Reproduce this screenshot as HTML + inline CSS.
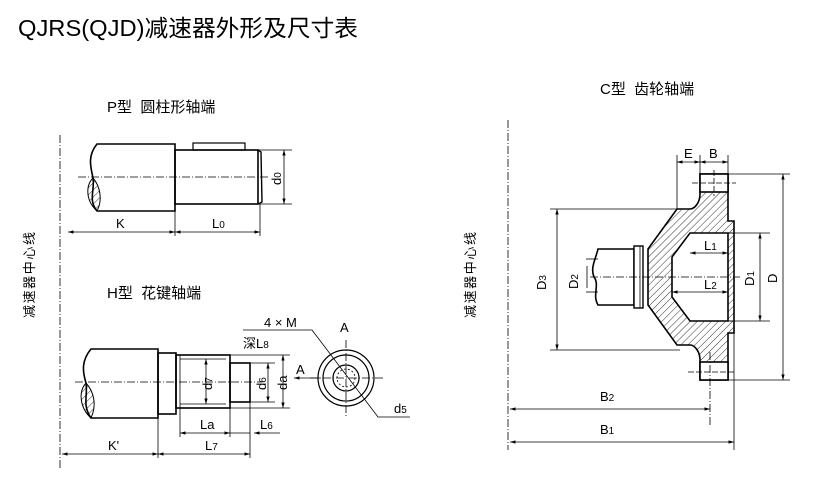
<!DOCTYPE html>
<html><head><meta charset="utf-8"><style>
html,body{margin:0;padding:0;background:#fff;}
svg{display:block;}
text{font-family:"Liberation Sans","Noto Sans CJK SC",sans-serif;fill:#000;}
</style></head><body>
<svg width="818" height="481" viewBox="0 0 818 481" xmlns="http://www.w3.org/2000/svg">
<defs>
<pattern id="h" width="5" height="5" patternUnits="userSpaceOnUse" patternTransform="rotate(45)">
<line x1="0" y1="0" x2="0" y2="5" stroke="#000" stroke-width="0.8"/>
</pattern>
<marker id="a" viewBox="0 0 10 10" refX="10" refY="5" markerWidth="7" markerHeight="7" orient="auto-start-reverse"><path d="M0,2 L10,5 L0,8z" fill="#000"/></marker>
</defs>
<text x="18" y="36" font-size="23" textLength="340" lengthAdjust="spacingAndGlyphs">QJRS(QJD)减速器外形及尺寸表</text>

<text transform="translate(34,318) rotate(-90)" font-size="13" textLength="86">减速器中心线</text>
<text transform="translate(475,318) rotate(-90)" font-size="13" textLength="86">减速器中心线</text>

<g fill="none" stroke="#000" stroke-width="0.8">
<line x1="60" y1="135" x2="60" y2="468" stroke-dasharray="8,2,1,2"/>
<line x1="508" y1="120" x2="508" y2="450" stroke-dasharray="8,2,1,2"/>

<!-- P type -->
<path d="M97,144 L175,144 L175,211 L97,211 C88,200 95,190 93,178 C90,165 88,155 97,144Z" stroke-width="1.6" fill="#fff"/>
<path d="M93,178 C86,185 85,200 97,211 C103,200 100,186 93,178Z" fill="url(#h)" stroke-width="1"/>
<rect x="175" y="150" width="83" height="54" stroke-width="1.6"/>
<rect x="193" y="143" width="52" height="7" stroke-width="1.2"/>
<path d="M258,150 L261,152 L262,202 L258,204" stroke-width="1.4"/>
<line x1="78" y1="177" x2="268" y2="177" stroke-dasharray="8,2,1,2"/>
<line x1="258" y1="150" x2="292" y2="150"/>
<line x1="258" y1="204" x2="292" y2="204"/>
<line x1="284" y1="150" x2="284" y2="204" marker-start="url(#a)" marker-end="url(#a)"/>
<line x1="175" y1="211" x2="175" y2="236"/>
<line x1="260" y1="204" x2="260" y2="236"/>
<line x1="68" y1="232" x2="175" y2="232" marker-start="url(#a)" marker-end="url(#a)"/>
<line x1="175" y1="232" x2="260" y2="232" marker-start="url(#a)" marker-end="url(#a)"/>

<!-- H type -->
<path d="M91,349 L158,349 L158,418 L91,418 C82,405 88,395 86,383 C82,370 82,360 91,349Z" stroke-width="1.6" fill="#fff"/>
<path d="M86,383 C78,392 80,408 91,418 C97,405 94,392 86,383Z" fill="url(#h)" stroke-width="1"/>
<rect x="158" y="353" width="18" height="61" stroke-width="1.6"/>
<rect x="176" y="355" width="54" height="53" stroke-width="1.6"/>
<line x1="180" y1="359" x2="226" y2="359"/>
<line x1="180" y1="404" x2="226" y2="404"/>
<line x1="180" y1="355" x2="180" y2="408"/>
<rect x="230" y="363" width="20" height="39" stroke-width="1.6"/>
<line x1="75" y1="382" x2="262" y2="382" stroke-dasharray="8,2,1,2"/>
<line x1="230" y1="355" x2="290" y2="355"/>
<line x1="230" y1="408" x2="290" y2="408"/>
<line x1="250" y1="363" x2="275" y2="363"/>
<line x1="250" y1="402" x2="275" y2="402"/>
<line x1="206" y1="359" x2="206" y2="404" marker-start="url(#a)" marker-end="url(#a)"/>
<line x1="268" y1="363" x2="268" y2="402" marker-start="url(#a)" marker-end="url(#a)"/>
<line x1="283" y1="355" x2="283" y2="408" marker-start="url(#a)" marker-end="url(#a)"/>
<line x1="180" y1="408" x2="180" y2="437"/>
<line x1="230" y1="408" x2="230" y2="437"/>
<line x1="250" y1="402" x2="250" y2="458"/>
<line x1="158" y1="418" x2="158" y2="458"/>
<line x1="180" y1="433" x2="230" y2="433" marker-start="url(#a)" marker-end="url(#a)"/>
<line x1="230" y1="433" x2="250" y2="433"/>
<line x1="280" y1="433" x2="254" y2="433" marker-end="url(#a)"/>
<line x1="158" y1="454" x2="250" y2="454" marker-start="url(#a)" marker-end="url(#a)"/>
<line x1="62" y1="454" x2="158" y2="454" marker-start="url(#a)" marker-end="url(#a)"/>
<circle cx="346" cy="378" r="28" stroke-width="1.2"/>
<circle cx="346" cy="378" r="23" stroke-width="1.2"/>
<circle cx="346" cy="378" r="13" stroke-width="1.2"/>
<circle cx="346" cy="378" r="9" stroke-dasharray="2,2"/>
<line x1="310" y1="378" x2="385" y2="378" stroke-dasharray="8,2,1,2"/>
<line x1="346" y1="340" x2="346" y2="416" stroke-dasharray="8,2,1,2"/>
<path d="M243,330 L312,330 L378,417 L410,417"/>
<line x1="320" y1="378" x2="294" y2="378" marker-end="url(#a)"/>

<!-- C type gear -->
<path d="M700,174 L728,174 L728,221 L734,221 L734,333 L728,333 L728,380 L700,380 L700,360 C700,352 695,345 690,345 L677,345 L648,305 L648,249 L677,209 L690,209 C695,209 700,202 700,194Z" fill="url(#h)" stroke-width="1.6"/>
<path d="M690,233 L728,233 L728,321 L690,321 L672,297 L672,257Z" fill="#fff" stroke-width="1.6"/>
<line x1="728" y1="233" x2="734" y2="233"/><line x1="728" y1="321" x2="734" y2="321"/>
<rect x="700" y="174" width="28" height="18" fill="#fff" stroke-width="1.6"/>
<rect x="700" y="362" width="28" height="18" fill="#fff" stroke-width="1.6"/>
<path d="M598,249 L634,249 L634,305 L598,305 C592,295 600,285 594,277 C590,268 596,258 598,249Z" fill="#fff" stroke-width="1.6"/>
<rect x="634" y="246" width="9" height="62" fill="#fff" stroke-width="1.4"/>
<line x1="640" y1="246" x2="640" y2="308"/>
<line x1="590" y1="277" x2="740" y2="277" stroke-dasharray="8,2,1,2"/>
<line x1="692" y1="183" x2="736" y2="183" stroke-dasharray="6,2"/>
<line x1="714" y1="170" x2="714" y2="196" stroke-dasharray="6,2"/>
<line x1="688" y1="372" x2="736" y2="372" stroke-dasharray="6,2"/>
<line x1="710" y1="352" x2="710" y2="425" stroke-dasharray="8,2,1,2"/>
<line x1="550" y1="209" x2="680" y2="209"/>
<line x1="550" y1="350" x2="680" y2="350"/>
<line x1="557" y1="209" x2="557" y2="350" marker-start="url(#a)" marker-end="url(#a)"/>
<line x1="587" y1="266" x2="587" y2="288"/>
<line x1="586" y1="259" x2="598" y2="259"/>
<line x1="586" y1="292" x2="598" y2="292"/>
<line x1="728" y1="233" x2="770" y2="233"/>
<line x1="728" y1="321" x2="770" y2="321"/>
<line x1="760" y1="233" x2="760" y2="321" marker-start="url(#a)" marker-end="url(#a)"/>
<line x1="728" y1="174" x2="790" y2="174"/>
<line x1="728" y1="380" x2="790" y2="380"/>
<line x1="783" y1="174" x2="783" y2="380" marker-start="url(#a)" marker-end="url(#a)"/>
<line x1="690" y1="253" x2="728" y2="253" marker-start="url(#a)" marker-end="url(#a)"/>
<line x1="672" y1="292" x2="728" y2="292" marker-start="url(#a)" marker-end="url(#a)"/>
<line x1="677" y1="155" x2="677" y2="209"/>
<line x1="700" y1="155" x2="700" y2="174"/>
<line x1="728" y1="155" x2="728" y2="174"/>
<line x1="677" y1="162" x2="700" y2="162" marker-start="url(#a)" marker-end="url(#a)"/>
<line x1="700" y1="162" x2="728" y2="162" marker-start="url(#a)" marker-end="url(#a)"/>
<line x1="734" y1="333" x2="734" y2="450"/>
<line x1="510" y1="409" x2="710" y2="409" marker-start="url(#a)" marker-end="url(#a)"/>
<line x1="510" y1="442" x2="734" y2="442" marker-start="url(#a)" marker-end="url(#a)"/>
</g>

<g font-size="13">
<text x="107" y="112" font-size="15" xml:space="preserve">P型  圆柱形轴端</text>
<text x="107" y="298" font-size="15" xml:space="preserve">H型  花键轴端</text>
<text x="600" y="94" font-size="15" xml:space="preserve">C型  齿轮轴端</text>
<text x="116" y="228">K</text>
<text x="212" y="228">L<tspan font-size="10">0</tspan></text>
<text transform="translate(281,185) rotate(-90)">d<tspan font-size="10">0</tspan></text>
<text x="264" y="327">4 × M</text>
<text x="243" y="348">深L<tspan font-size="10">8</tspan></text>
<text x="340" y="332">A</text>
<text x="296" y="374">A</text>
<text x="394" y="413">d<tspan font-size="10">5</tspan></text>
<text transform="translate(212,390) rotate(-90)">d<tspan font-size="10">7</tspan></text>
<text transform="translate(266,390) rotate(-90)">d<tspan font-size="10">6</tspan></text>
<text transform="translate(287,390) rotate(-90)">da</text>
<text x="200" y="429">La</text>
<text x="260" y="429">L<tspan font-size="10">6</tspan></text>
<text x="205" y="450">L<tspan font-size="10">7</tspan></text>
<text x="108" y="450">K'</text>
<text x="684" y="158">E</text>
<text x="709" y="158">B</text>
<text transform="translate(546,290) rotate(-90)">D<tspan font-size="10">3</tspan></text>
<text transform="translate(578,289) rotate(-90)">D<tspan font-size="10">2</tspan></text>
<text transform="translate(754,286) rotate(-90)">D<tspan font-size="10">1</tspan></text>
<text transform="translate(777,283) rotate(-90)">D</text>
<text x="704" y="250">L<tspan font-size="10">1</tspan></text>
<text x="704" y="289">L<tspan font-size="10">2</tspan></text>
<text x="600" y="401">B<tspan font-size="10">2</tspan></text>
<text x="600" y="434">B<tspan font-size="10">1</tspan></text>
</g>
</svg>
</body></html>
